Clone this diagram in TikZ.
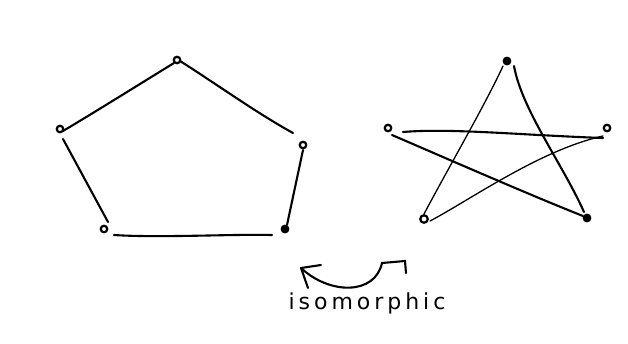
\documentclass[tikz,border=0pt]{standalone}
\usepackage{fontspec}
\setsansfont{DejaVu Sans}
\usetikzlibrary{calc}
\begin{document}
\begin{tikzpicture}[x=1pt,y=-1pt,
  vtx/.style={circle,draw,line width=2.2pt,inner sep=0pt,minimum size=6.5pt},
  edge/.style={line width=2.1pt,line cap=round},
  thin edge/.style={line width=1.3pt,line cap=round}]
\useasboundingbox (0,0) rectangle (628,343);
% pentagon
\node[vtx] (pt) at (177,60) {};
\node[vtx] (pl) at (60,129) {};
\node[vtx] (pr) at (303,145) {};
\node[vtx] (pbl) at (104,229) {};
\node[vtx,fill] (pbr) at (285,229) {};
\draw[edge] ($(pt)+(-3,3)$) .. controls (135,87) and (95,112) .. ($(pl)+(3,2)$);
\draw[edge] ($(pt)+(3,1)$) .. controls (215,83) and (255,112) .. ($(pr)+(-10,-12)$);
\draw[edge] ($(pl)+(3,10)$) -- ($(pbl)+(4,-7)$);
\draw[edge] ($(pr)+(0,5)$) -- ($(pbr)+(2,-4)$);
\draw[edge] ($(pbl)+(10,6)$) .. controls (160,238) and (230,234) .. ($(pbr)+(-13,6)$);
% star
\node[vtx,fill] (st) at (507,61) {};
\node[vtx] (sl) at (388,128) {};
\node[vtx] (sr) at (607,128) {};
\node[vtx,minimum size=7.5pt] (sbl) at (424,219) {};
\node[vtx,fill] (sbr) at (587,218) {};
\draw[thin edge] ($(st)+(-4,5)$) .. controls (485,105) and (450,165) .. ($(sbl)+(0,-5)$);
\draw[edge] ($(st)+(7,5)$) .. controls (522,110) and (562,163) .. ($(sbr)+(-3,-6)$);
\draw[edge] ($(sl)+(15,4)$) .. controls (450,128) and (520,135) .. ($(sr)+(-4,10)$);
\draw[edge] ($(sl)+(4,7)$) .. controls (450,160) and (530,195) .. ($(sbr)+(-4,-2)$);
\draw[thin edge] ($(sr)+(-4,8)$) .. controls (540,150) and (470,200) .. ($(sbl)+(6,2)$);
% arrow and label
\coordinate (ar) at (406,273);
\coordinate (al) at (301,268);
\draw[edge] (ar) -- (405,261) -- (382,263) .. controls (375,295) and (330,295) .. (al);
\draw[edge] (al) -- (321,265);
\draw[edge] (al) -- (308,288);
\node[font=\sffamily\fontsize{22}{22}\selectfont\addfontfeature{LetterSpace=18}] (lab) at (367,303) {isomorphic};
\end{tikzpicture}
\end{document}
